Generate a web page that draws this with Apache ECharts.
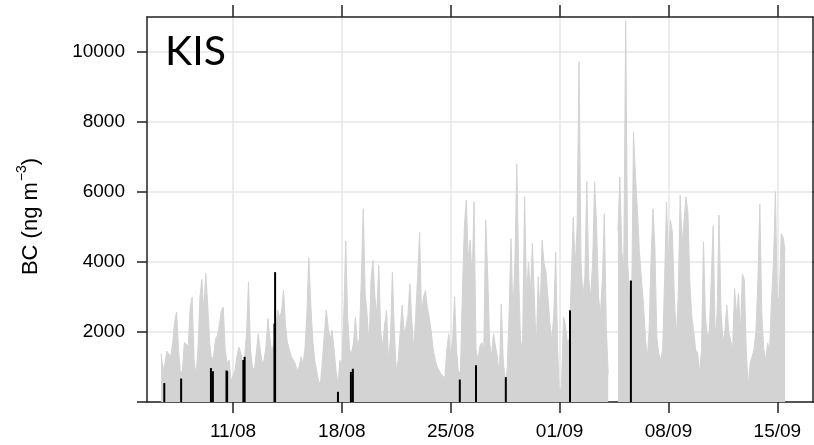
<!DOCTYPE html>
<html>
<head>
<meta charset="utf-8">
<script src="https://cdn.jsdelivr.net/npm/echarts@6/dist/echarts.min.js"></script>
<style>
  html, body { margin: 0; padding: 0; background: #fff; }
  #chart { width: 814px; height: 445px; }
</style>
</head>
<body>
<div id="chart"></div>
<script>
// Black carbon concentration at KIS, 3-hourly samples (ng m-3).
// First sample: 06/08 09:00, one row per day, null = no measurement.
const sampleStart = '2014-08-06T09:00Z';
const sampleStepHours = 3;
const bc = [
  1380, 900, 1100, 1450, 1500,                       // 06/08 (from 09:00)
  1300, 1700, 2300, 2570, 1500, 800, 900, 1700,      // 07/08
  1700, 1600, 2700, 3000, 1200, 750, 1500, 3000,     // 08/08
  3500, 2600, 3670, 2800, 1700, 1200, 1300, 1800,    // 09/08
  1900, 2200, 2600, 2710, 1500, 1100, 1200, 600,     // 10/08
  600, 900, 1300, 1570, 1400, 1100, 1300, 2000,      // 11/08
  3430, 1500, 1000, 900, 1400, 1950, 1500, 1100,     // 12/08
  1200, 1600, 2380, 1800, 1400, 1700, 2000, 2620,    // 13/08
  2400, 2600, 3210, 2200, 1700, 1500, 1300, 1200,    // 14/08
  1100, 900, 1000, 1290, 1100, 1500, 2500, 4120,     // 15/08
  2800, 1800, 1200, 900, 600, 520, 1200, 1950,       // 16/08
  2630, 2100, 1800, 2050, 1500, 900, 500, 1190,      // 17/08
  1100, 2500, 4600, 2400, 1500, 1400, 1700, 2430,    // 18/08
  1600, 1800, 3500, 5520, 3090, 2500, 1600, 3500,    // 19/08
  4050, 3000, 2500, 3900, 2000, 1600, 2200, 2620,    // 20/08
  1200, 1800, 3710, 2000, 900, 1200, 2000, 2760,     // 21/08
  2000, 2140, 2500, 3380, 2300, 1500, 2500, 3600,    // 22/08
  4840, 2500, 3000, 3190, 2700, 2400, 2000, 1500,    // 23/08
  1200, 1000, 950, 800, 820, 700, 1500, 1950,        // 24/08
  1300, 1800, 3000, 1500, 800, 900, 3150, 5000,      // 25/08
  5770, 4060, 4630, 3500, 5720, 1500, 1200, 1600,    // 26/08
  1700, 1500, 5190, 3670, 1700, 1300, 1950, 1600,    // 27/08
  1300, 700, 2800, 1200, 600, 900, 2500, 4660,       // 28/08
  2500, 4000, 6790, 3500, 1500, 1800, 5870, 3000,    // 29/08
  4000, 3100, 4530, 3000, 1490, 3580, 2500, 4630,    // 30/08
  3960, 3700, 3000, 2250, 1770, 2500, 4290, 1500,    // 31/08
  140, 500, 2430, 2200, 1700, 1800, 3500, 5280,      // 01/09
  3870, 5000, 9720, 4000, 3000, 3580, 6290, 3500,    // 02/09
  3000, 4000, 6290, 5100, 3000, 2500, 3500, 5380,    // 03/09
  2140, 810, null, null, null, null, 4900, 6430,     // 04/09
  4300, 3860, 10900, 4000, 3000, 2500, 7710, 6500,   // 05/09
  5500, 4330, 3570, 2900, 2000, 1190, 2000, 4000,    // 06/09
  5520, 4430, 1860, 1380, 1200, 1500, 3500, 5710,    // 07/09
  4000, 5190, 4860, 3000, 1860, 3000, 5900, 4500,    // 08/09
  4500, 5860, 5400, 3380, 2430, 2000, 1490, 1400,    // 09/09
  820, 1500, 4580, 2440, 1870, 2000, 3500, 5030,     // 10/09
  1870, 2500, 5340, 2630, 1720, 2000, 2770, 2000,    // 11/09
  2000, 1500, 3240, 2500, 3100, 2000, 3660, 3500,    // 12/09
  1500, 440, 1100, 1300, 1500, 2060, 3500, 5650,     // 13/09
  2500, 1500, 1200, 1680, 1500, 2910, 4000, 6010,    // 14/09
  2900, 3000, 4810, 4700, 4330                       // 15/09 (to 12:00)
];

// Short episodes drawn in black
const episodeTimes = [
  '2014-08-06T14:00Z', '2014-08-07T16:00Z', '2014-08-09T14:00Z', '2014-08-09T17:00Z',
  '2014-08-10T14:00Z', '2014-08-10T15:00Z', '2014-08-11T16:00Z', '2014-08-11T18:00Z',
  '2014-08-13T16:00Z', '2014-08-13T17:00Z', '2014-08-17T18:00Z', '2014-08-18T14:00Z',
  '2014-08-18T17:00Z', '2014-08-25T14:00Z', '2014-08-26T15:00Z', '2014-08-28T13:00Z',
  '2014-09-01T16:00Z', '2014-09-05T14:00Z'
];
const episodeValues = [
  540, 670, 970, 880,
  900, 880, 1200, 1290,
  2240, 3710, 290, 860,
  950, 640, 1050, 710,
  2620, 3470
];

const weekTicks = ['2014-08-11T00:00Z', '2014-08-18T00:00Z', '2014-08-25T00:00Z',
                   '2014-09-01T00:00Z', '2014-09-08T00:00Z', '2014-09-15T00:00Z'];
const yTicks = [0, 2000, 4000, 6000, 8000, 10000];
const yLabels = [2000, 4000, 6000, 8000, 10000];

const HOUR = 3600 * 1000;
const t0 = Date.parse(sampleStart);
const bcData = bc.map((v, i) => [t0 + i * sampleStepHours * HOUR, v]);
const episodeData = episodeTimes.map((t, i) => [Date.parse(t), episodeValues[i]]);
const weekTickValues = weekTicks.map(t => Date.parse(t));

const xMin = Date.parse('2014-08-05T11:20Z');
const xMax = Date.parse('2014-09-17T07:00Z');

const pad = n => String(n).padStart(2, '0');
const dayMonth = v => { const d = new Date(v); return pad(d.getUTCDate()) + '/' + pad(d.getUTCMonth() + 1); };

const frame = { lineStyle: { color: '#222', width: 1.5 } };
const tickLine = { color: '#222', width: 1.5 };
const font = 'Liberation Sans';

const chart = echarts.init(document.getElementById('chart'), null, { renderer: 'canvas' });
chart.setOption({
  animation: false,
  backgroundColor: '#fff',
  grid: { left: 147, right: 1, top: 17, bottom: 43 },
  xAxis: [
    {
      type: 'value', min: xMin, max: xMax, position: 'bottom',
      axisLine: { show: true, ...frame },
      axisTick: { show: true, inside: false, length: 11, customValues: weekTickValues, lineStyle: tickLine },
      axisLabel: { customValues: weekTickValues, formatter: dayMonth, margin: 20, fontSize: 19, fontFamily: font, color: '#000' },
      splitLine: { show: true, lineStyle: { color: '#e6e6e6', width: 1.5 } }
    },
    {
      type: 'value', min: xMin, max: xMax, position: 'top',
      axisLine: { show: true, onZero: false, ...frame },
      axisTick: { show: true, inside: false, length: 12, customValues: weekTickValues, lineStyle: tickLine },
      axisLabel: { show: false },
      splitLine: { show: false }
    }
  ],
  yAxis: [
    {
      type: 'value', min: 0, max: 11000, position: 'left',
      axisLine: { show: true, onZero: false, ...frame },
      axisTick: { show: true, length: 10, customValues: yTicks, lineStyle: tickLine },
      axisLabel: { customValues: yLabels, formatter: v => String(v), margin: 22, fontSize: 19, fontFamily: font, color: '#000' },
      splitLine: { show: true, lineStyle: { color: '#e6e6e6', width: 1.5 } },
      name: '{t|BC (ng m}{s|\u22123}{t|)}',
      nameLocation: 'middle', nameRotate: 90, nameGap: 105,
      nameTextStyle: {
        fontFamily: font, fontSize: 22, color: '#000', padding: [0, 14, 0, 0],
        rich: {
          t: { fontFamily: font, fontSize: 22, color: '#000', lineHeight: 30, verticalAlign: 'bottom' },
          s: { fontFamily: font, fontSize: 14, color: '#000', lineHeight: 30, verticalAlign: 'top', padding: [3, 0, 0, 1] }
        }
      }
    },
    {
      type: 'value', min: 0, max: 11000, position: 'right',
      axisLine: { show: true, onZero: false, ...frame },
      axisTick: { show: true, length: 10, customValues: yTicks, lineStyle: tickLine },
      axisLabel: { show: false },
      splitLine: { show: false }
    }
  ],
  graphic: [
    { type: 'text', left: 165, top: 31, z: 100,
      style: { text: 'KIS', font: '41px Lato', fill: '#000' } }
  ],
  series: [
    {
      type: 'line', xAxisIndex: 0, yAxisIndex: 0, data: bcData,
      symbol: 'none', showSymbol: false, connectNulls: false, silent: true,
      lineStyle: { color: '#d3d3d3', width: 1 },
      areaStyle: { color: '#d3d3d3', opacity: 1 },
      z: 2
    },
    {
      type: 'bar', xAxisIndex: 0, yAxisIndex: 0, data: episodeData,
      barWidth: 2, silent: true,
      itemStyle: { color: '#000' },
      z: 3
    }
  ]
});
</script>
</body>
</html>
